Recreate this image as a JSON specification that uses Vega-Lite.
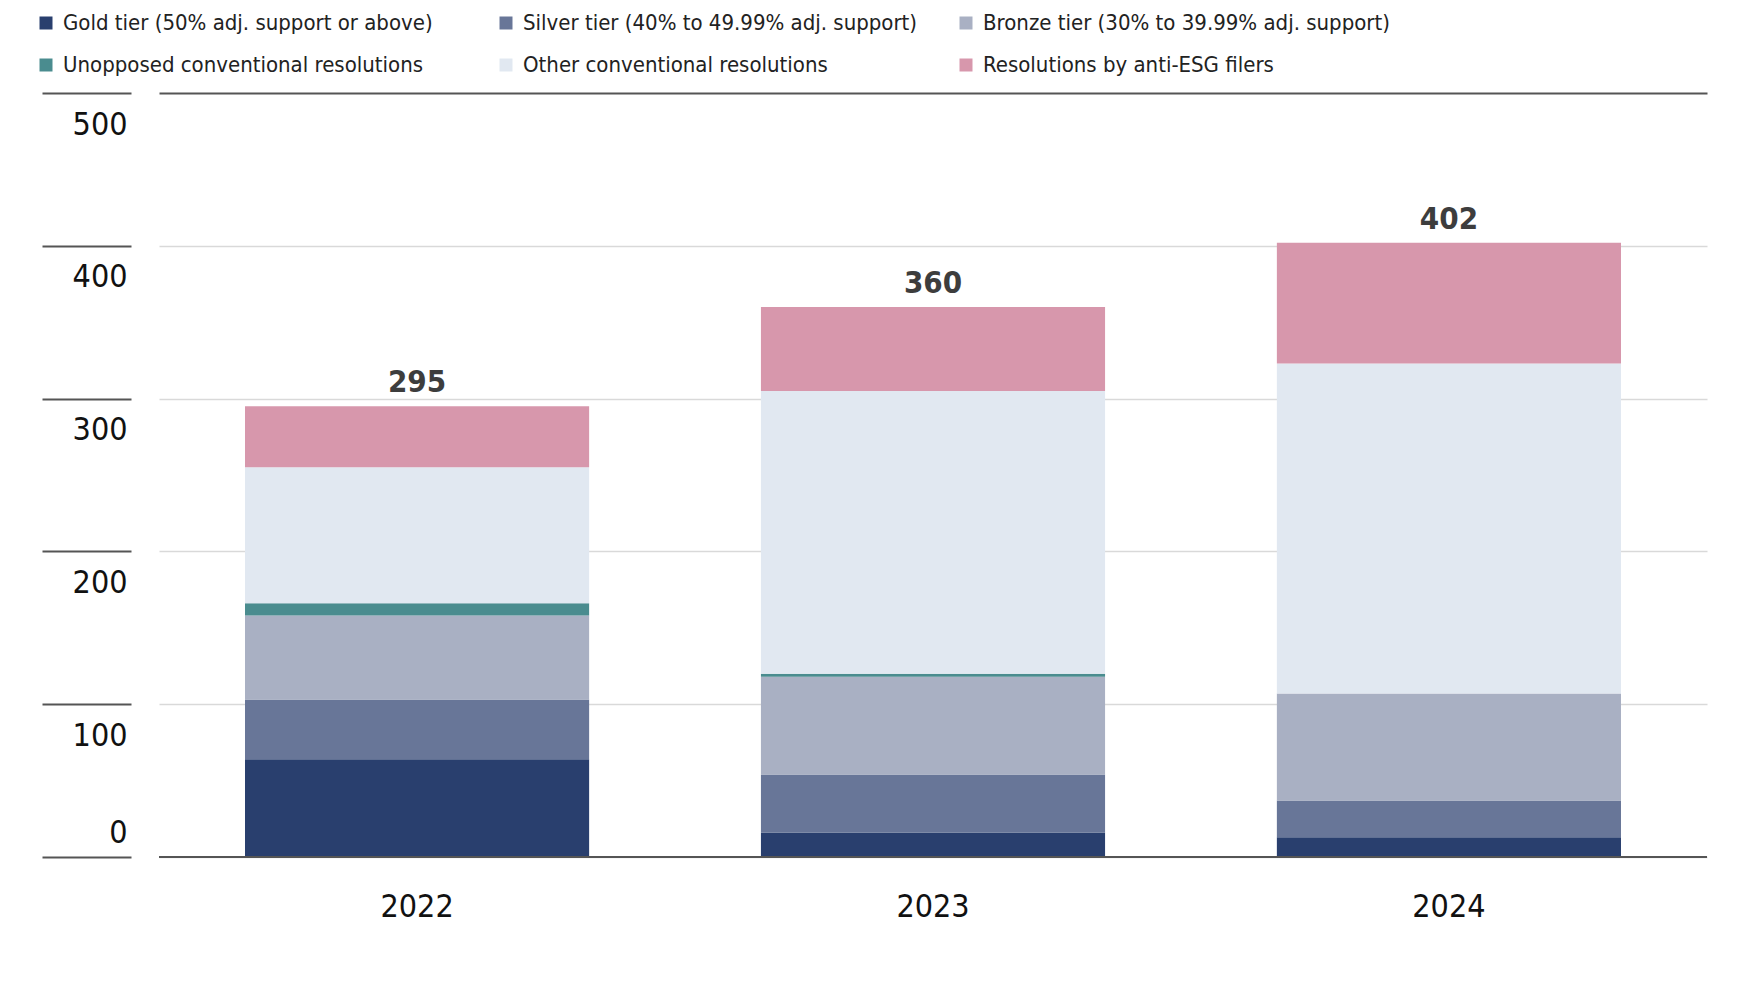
{
  "$schema": "https://vega.github.io/schema/vega-lite/v6.json",
  "width": 1548,
  "height": 764,
  "autosize": {"type": "none"},
  "padding": {"left": 159, "top": 93, "right": 34, "bottom": 134},
  "config": {
    "view": {"stroke": null},
    "font": "Liberation Sans Narrow, DejaVu Sans Condensed, sans-serif"
  },
  "data": {
    "values": [
      {"Year": "2022", "Category": "Gold tier (50% adj. support or above)", "Count": 64},
      {"Year": "2022", "Category": "Silver tier (40% to 49.99% adj. support)", "Count": 39},
      {"Year": "2022", "Category": "Bronze tier (30% to 39.99% adj. support)", "Count": 55},
      {"Year": "2022", "Category": "Unopposed conventional resolutions", "Count": 8},
      {"Year": "2022", "Category": "Other conventional resolutions", "Count": 89},
      {"Year": "2022", "Category": "Resolutions by anti-ESG filers", "Count": 40},
      {"Year": "2023", "Category": "Gold tier (50% adj. support or above)", "Count": 16},
      {"Year": "2023", "Category": "Silver tier (40% to 49.99% adj. support)", "Count": 38},
      {"Year": "2023", "Category": "Bronze tier (30% to 39.99% adj. support)", "Count": 64},
      {"Year": "2023", "Category": "Unopposed conventional resolutions", "Count": 2},
      {"Year": "2023", "Category": "Other conventional resolutions", "Count": 185},
      {"Year": "2023", "Category": "Resolutions by anti-ESG filers", "Count": 55},
      {"Year": "2024", "Category": "Gold tier (50% adj. support or above)", "Count": 13},
      {"Year": "2024", "Category": "Silver tier (40% to 49.99% adj. support)", "Count": 24},
      {"Year": "2024", "Category": "Bronze tier (30% to 39.99% adj. support)", "Count": 70},
      {"Year": "2024", "Category": "Unopposed conventional resolutions", "Count": 0},
      {"Year": "2024", "Category": "Other conventional resolutions", "Count": 216},
      {"Year": "2024", "Category": "Resolutions by anti-ESG filers", "Count": 79}
    ]
  },
  "layer": [
    {
      "transform": [
        {
          "calculate": "indexof(['Gold tier (50% adj. support or above)', 'Silver tier (40% to 49.99% adj. support)', 'Bronze tier (30% to 39.99% adj. support)', 'Unopposed conventional resolutions', 'Other conventional resolutions', 'Resolutions by anti-ESG filers'], datum.Category)",
          "as": "StackOrder"
        }
      ],
      "mark": {"type": "bar"},
      "encoding": {
        "x": {
          "field": "Year",
          "type": "nominal",
          "scale": {"paddingInner": 0.333, "paddingOuter": 0.1667},
          "axis": {
            "title": null,
            "domain": false,
            "ticks": false,
            "labelAngle": 0,
            "labelPadding": 59,
            "labelBaseline": "alphabetic",
            "labelFontSize": 32,
            "labelColor": "#111111"
          }
        },
        "y": {
          "field": "Count",
          "type": "quantitative",
          "stack": "zero",
          "scale": {"domain": [0, 500], "nice": false},
          "axis": {
            "title": null,
            "values": [0, 100, 200, 300, 400, 500],
            "offset": 28,
            "domain": false,
            "tickSize": 89,
            "tickWidth": 2,
            "tickColor": "#555555",
            "grid": true,
            "gridColor": {"condition": {"test": "datum.value == 500", "value": "#555555"}, "value": "#d9d9d9"},
            "gridWidth": {"condition": {"test": "datum.value == 500", "value": 2}, "value": 1.5},
            "labelAlign": "right",
            "labelPadding": -85,
            "labelBaseline": "alphabetic",
            "labelOffset": {"condition": {"test": "datum.value == 0", "value": -15}, "value": 41},
            "labelFontSize": 32,
            "labelColor": "#111111"
          }
        },
        "order": {"field": "StackOrder", "type": "quantitative", "sort": "ascending"},
        "color": {
          "field": "Category",
          "type": "nominal",
          "sort": [
            "Gold tier (50% adj. support or above)",
            "Silver tier (40% to 49.99% adj. support)",
            "Bronze tier (30% to 39.99% adj. support)",
            "Unopposed conventional resolutions",
            "Other conventional resolutions",
            "Resolutions by anti-ESG filers"
          ],
          "scale": {
            "domain": [
              "Gold tier (50% adj. support or above)",
              "Silver tier (40% to 49.99% adj. support)",
              "Bronze tier (30% to 39.99% adj. support)",
              "Unopposed conventional resolutions",
              "Other conventional resolutions",
              "Resolutions by anti-ESG filers"
            ],
            "range": ["#293f6e", "#687698", "#a9b0c3", "#4a8c8f", "#e1e8f1", "#d797ac"]
          },
          "legend": {
            "title": null,
            "orient": "none",
            "legendX": -124,
            "legendY": -81,
            "direction": "horizontal",
            "columns": 3,
            "gridAlign": "all",
            "columnPadding": 25,
            "rowPadding": 20,
            "symbolType": "square",
            "symbolSize": 169,
            "symbolStrokeWidth": 0,
            "labelFontSize": 22,
            "labelOffset": 6,
            "labelLimit": 600,
            "labelColor": "#222222"
          }
        }
      }
    },
    {
      "transform": [
        {"aggregate": [{"op": "sum", "field": "Count", "as": "Total"}], "groupby": ["Year"]}
      ],
      "mark": {
        "type": "text",
        "baseline": "alphabetic",
        "dy": -14,
        "fontSize": 31,
        "fontWeight": "bold",
        "color": "#3d3d3d"
      },
      "encoding": {
        "x": {"field": "Year", "type": "nominal"},
        "y": {"field": "Total", "type": "quantitative"},
        "text": {"field": "Total", "type": "quantitative"}
      }
    },
    {
      "mark": {"type": "rule", "color": "#555555", "strokeWidth": 2},
      "encoding": {"y": {"datum": 0}}
    }
  ]
}
